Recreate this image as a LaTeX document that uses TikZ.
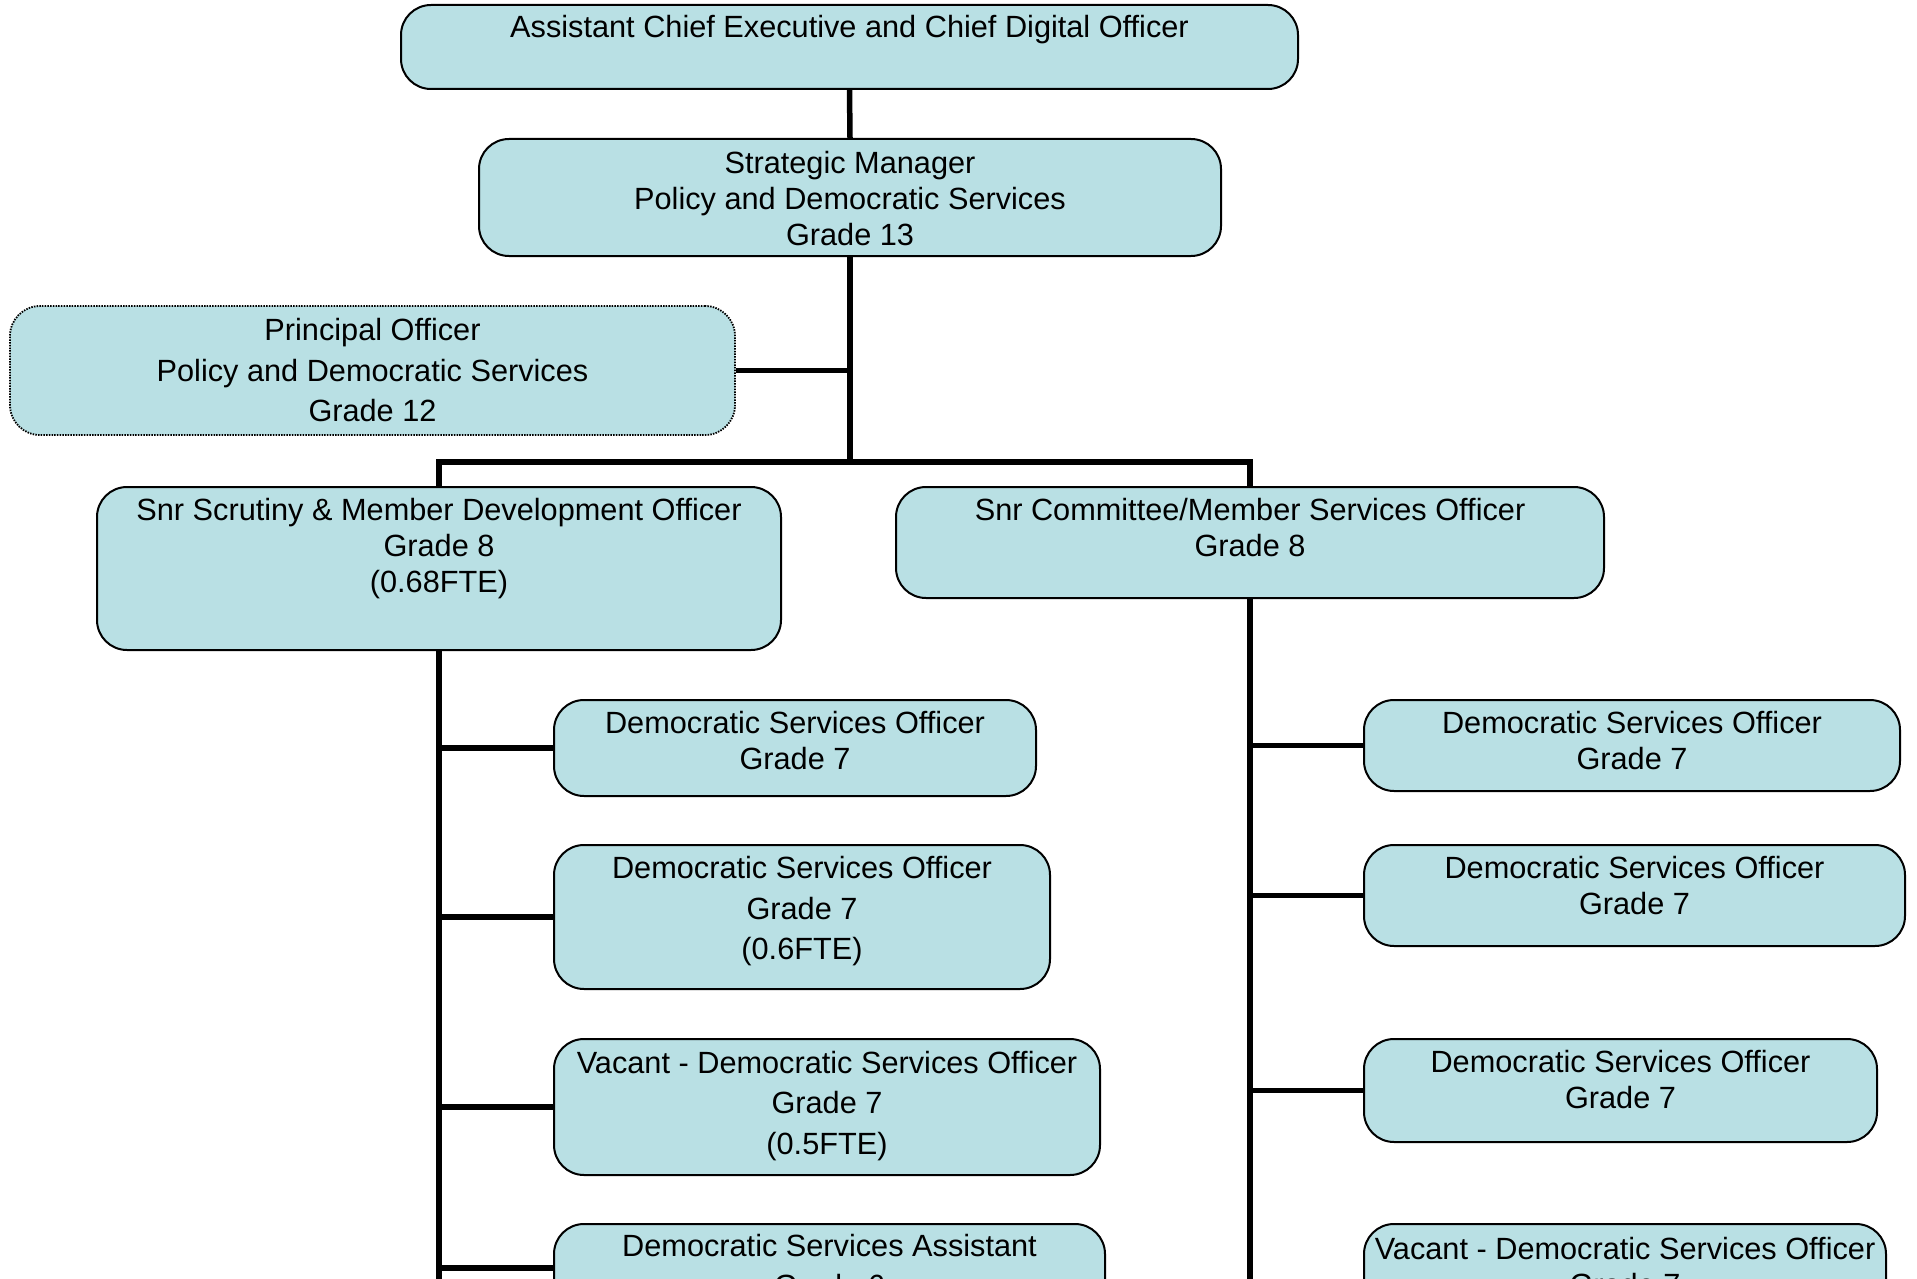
\documentclass[tikz,border=0pt]{standalone}
\usepackage{fontspec}
\setmainfont{Liberation Sans}
\definecolor{boxfill}{RGB}{185,224,228}
\begin{document}
\begin{tikzpicture}[x=1pt,y=-1pt,
  box/.style={draw=black, line width=2pt, fill=boxfill, rounded corners=30pt, inner sep=0pt},
  dotbox/.style={box, line width=1.8pt, dash pattern=on 1.5pt off 1.2pt},
  txt/.style={align=center, inner sep=0pt, font=\fontsize{30.7}{36}\selectfont},
  txtw/.style={align=center, inner sep=0pt, font=\fontsize{30.7}{40.5}\selectfont},
  conn/.style={draw=black, line width=5.5pt}]
\useasboundingbox (0,0) rectangle (1917,1279);
% boxes
\node[box, minimum width=897pt, minimum height=84pt] (top) at (849.5,47) {};
\node[box, minimum width=742pt, minimum height=117pt] (sm) at (850,197.5) {};
\node[dotbox, minimum width=725pt, minimum height=129pt] (po) at (372.5,370.5) {};
\node[box, minimum width=684pt, minimum height=163pt] (ss) at (439,568.5) {};
\node[box, minimum width=708pt, minimum height=111pt] (sc) at (1250,542.5) {};
\node[box, minimum width=482pt, minimum height=96pt] (l1) at (795,748) {};
\node[box, minimum width=496pt, minimum height=144pt] (l2) at (802,917) {};
\node[box, minimum width=546pt, minimum height=136pt] (l3) at (827,1107) {};
\node[box, minimum width=551pt, minimum height=88pt] (l4) at (829.5,1268) {};
\node[box, minimum width=536pt, minimum height=91pt] (r1) at (1632,745.5) {};
\node[box, minimum width=541pt, minimum height=101pt] (r2) at (1634.5,895.5) {};
\node[box, minimum width=513pt, minimum height=103pt] (r3) at (1620.5,1090.5) {};
\node[box, minimum width=522pt, minimum height=90pt] (r4) at (1625,1269) {};
% texts
\node[txt] (ttop) at (849.5,30) {Assistant Chief Executive and Chief Digital Officer};
\node[txt] (tsm) at (850,199) {Strategic Manager\\Policy and Democratic Services\\Grade 13};
\node[txtw] (tpo) at (372.5,370.5) {Principal Officer\\Policy and Democratic Services\\Grade 12};
\node[txt] (tss) at (439,549) {Snr Scrutiny \& Member Development Officer\\Grade 8\\(0.68FTE)};
\node[txt] (tsc) at (1250,528) {Snr Committee/Member Services Officer\\Grade 8};
\node[txt] (tl1) at (795,741) {Democratic Services Officer\\Grade 7};
\node[txtw] (tl2) at (802,911.5) {Democratic Services Officer\\Grade 7\\(0.6FTE)};
\node[txtw] (tl3) at (827,1106) {Vacant - Democratic Services Officer\\Grade 7\\(0.5FTE)};
\node[txtw, anchor=north] (tl4) at (829.5,1234) {Democratic Services Assistant\\Grade 6};
\node[txt, anchor=north] (tr4) at (1625,1237) {Vacant - Democratic Services Officer\\Grade 7};
\node[txt] (tr1) at (1632,741) {Democratic Services Officer\\Grade 7};
\node[txt] (tr2) at (1634.5,886) {Democratic Services Officer\\Grade 7};
\node[txt] (tr3) at (1620.5,1080) {Democratic Services Officer\\Grade 7};
% connectors
\coordinate (bar) at (850,462);
\coordinate (lbot) at (438,1290);
\coordinate (rbot) at (1250,1290);
\path[conn] (top.south) -- (sm.north);
\path[conn] (sm.south) -- (sm.south |- bar);
\path[conn] (po.east) -- (po.east -| sm.south);
\path[conn] (ss.north) -- (ss.north |- bar) -- (sc.north |- bar) -- (sc.north);
\path[conn] (ss.south) -- (ss.south |- lbot);
\path[conn] (sc.south) -- (sc.south |- rbot);
\path[conn] (ss.south) |- (l1.west);
\path[conn] (ss.south) |- (l2.west);
\path[conn] (ss.south) |- (l3.west);
\path[conn] (ss.south) |- (l4.west);
\path[conn] (sc.south) |- (r1.west);
\path[conn] (sc.south) |- (r2.west);
\path[conn] (sc.south) |- (r3.west);
\end{tikzpicture}
\end{document}
